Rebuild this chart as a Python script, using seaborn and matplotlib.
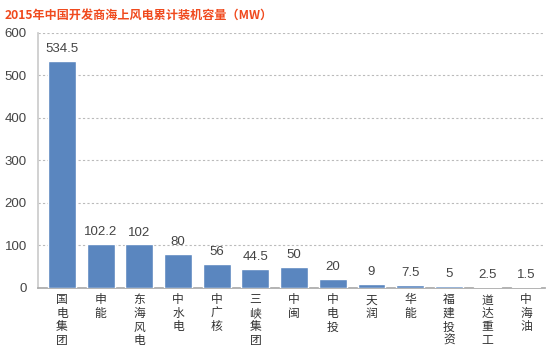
import matplotlib
matplotlib.use("Agg")
import matplotlib.pyplot as plt
import seaborn as sns
import pandas as pd

companies = ["国电集团", "申能", "东海风电", "中水电", "中广核", "三峡集团", "中闽",
             "中电投", "天润", "华能", "福建投资", "道达重工", "中海油"]
capacity = [534.5, 102.2, 102, 80, 56, 44.5, 50, 20, 9, 7.5, 5, 2.5, 1.5]
value_labels = ["534.5", "102.2", "102", "80", "56", "44.5", "50", "20", "9", "7.5", "5", "2.5", "1.5"]
yticks = [0, 100, 200, 300, 400, 500, 600]
title = "2015年中国开发商海上风电累计装机容量（MW）"

sns.set_theme(style="white")
plt.rcParams['font.family'] = ['Noto Sans CJK SC', 'DejaVu Sans']

df = pd.DataFrame({"company": companies, "capacity": capacity})

fig = plt.figure(figsize=(5.58, 3.58), dpi=100)
ax = fig.add_axes([0.068, 0.196, 0.909, 0.712])
sns.barplot(data=df, x="company", y="capacity", color="#5a86bf", saturation=1,
            width=0.72, ax=ax, zorder=3)

ax.set_ylim(0, 600)
ax.set_yticks(yticks)
ax.set_yticklabels([str(t) for t in yticks], fontsize=9.5, color="#444444",
                   family=['Liberation Sans', 'DejaVu Sans'])
ax.set_xticks(range(len(companies)))
ax.set_xticklabels(["\n".join(c) for c in companies], fontsize=8.5, color="#333333",
                   linespacing=1.05)
ax.set_xlabel("")
ax.set_ylabel("")
ax.tick_params(axis="y", length=0, pad=8)
ax.tick_params(axis="x", length=0, pad=4)
ax.set_xlim(-0.62, len(companies) - 0.51)

ax.yaxis.grid(True, linestyle=(0, (2, 2)), color="#bbbbbb", linewidth=0.8, zorder=0)
for s in ["top", "right"]:
    ax.spines[s].set_visible(False)
ax.spines["left"].set_color("#cccccc")
ax.spines["bottom"].set_color("#aaaaaa")

for i, (v, lab) in enumerate(zip(capacity, value_labels)):
    ax.text(i, v + 14, lab, ha="center", va="bottom", fontsize=9.5, color="#444444",
            family=['Liberation Sans', 'DejaVu Sans'])

fig.text(0.008, 0.975, title, ha="left", va="top", fontsize=8.7, fontweight="bold",
         color="#f04a1e")

fig.savefig("out.png", dpi=100)
